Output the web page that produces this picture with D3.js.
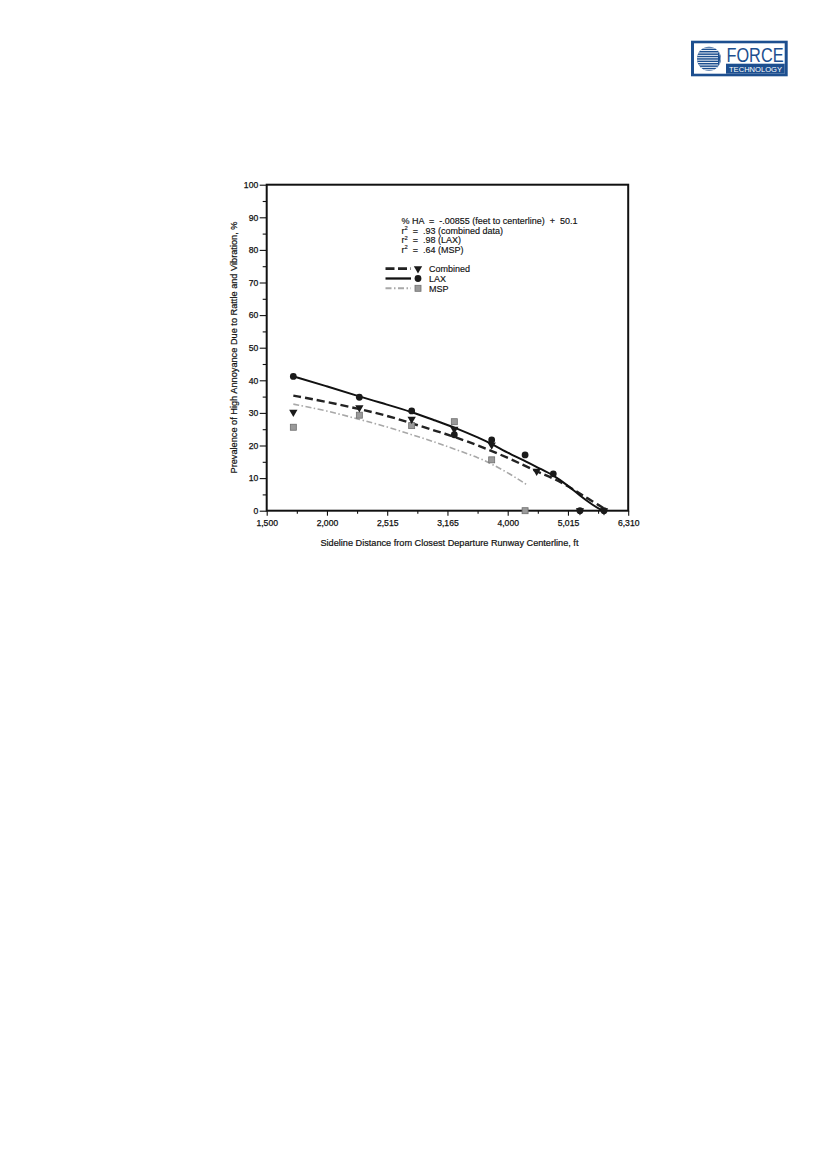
<!DOCTYPE html>
<html>
<head>
<meta charset="utf-8">
<script src="https://cdn.jsdelivr.net/npm/d3@7/dist/d3.min.js"></script>
<style>
html,body{margin:0;padding:0;background:#fff;}
svg{display:block;}
text{font-family:"Liberation Sans",Arial,sans-serif;fill:#111;}
</style>
</head>
<body>
<script>
// ---------- DATA ----------
const xTickValues = [1500, 2000, 2515, 3165, 4000, 5015, 6310];
const yTickValues = [0, 10, 20, 30, 40, 50, 60, 70, 80, 90, 100];
const yMinorValues = [5, 15, 25, 35, 45, 55, 65, 75, 85, 95];

// observed points
const laxX = [1721, 2277, 2779, 3260, 3778, 4293, 4768, 5273, 5790];
const laxY = [41.2, 34.8, 30.6, 23.3, 21.7, 17.1, 11.3, 0, 0];
const combinedX = [1721, 2277, 2779, 3260, 3778, 4488, 5273, 5790];
const combinedY = [30.2, 31.6, 28.1, 25.0, 20.2, 12.1, 0, 0];
const mspX = [1721, 2277, 2779, 3260, 3778, 4293];
const mspY = [25.6, 29.3, 26.1, 27.3, 15.6, 0];

// fitted curves
const laxFitX = [1721, 1998, 2277, 2510, 2779, 3049, 3260, 3616, 3778, 4039, 4319, 4544, 4768, 4993, 5273, 5559, 5760];
const laxFitY = [41.2, 38.2, 35.0, 32.6, 30.3, 27.5, 25.6, 22.2, 20.5, 17.4, 15.0, 12.9, 10.9, 8.0, 4.6, 1.6, 0];
const combinedFitX = [1721, 1998, 2277, 2510, 2779, 3049, 3260, 3616, 4039, 4488, 4768, 5058, 5273, 5416, 5700, 5790];
const combinedFitY = [35.3, 33.4, 31.2, 29.2, 26.8, 24.4, 22.7, 19.8, 16.0, 12.0, 10.0, 7.2, 5.2, 4.0, 1.5, 0.7];
const mspFitX = [1721, 1998, 2277, 2510, 2779, 3049, 3260, 3616, 3778, 4039, 4319];
const mspFitY = [32.7, 30.7, 28.0, 25.8, 23.3, 20.9, 18.9, 16.1, 14.3, 11.3, 8.0];

const legendLabels = ["Combined", "LAX", "MSP"];
const annotationLines = [
  {pre: "% HA  =  -.00855 (feet to centerline)  +  50.1", r: false},
  {pre: "  =  .93 (combined data)", r: true},
  {pre: "  =  .98 (LAX)", r: true},
  {pre: "  =  .64 (MSP)", r: true}
];
const xTitle = "Sideline Distance from Closest Departure Runway Centerline, ft";
const yTitle = "Prevalence of High Annoyance Due to Rattle and Vibration, %";

// ---------- LAYOUT ----------
const W = 827, H = 1169;
const L = 266.7, R = 628.2, T = 184.7, B = 510.7;

const svg = d3.select("body").append("svg").attr("width", W).attr("height", H);
svg.append("rect").attr("width", W).attr("height", H).attr("fill", "#fff");

const x = d3.scaleLinear()
  .domain(xTickValues)
  .range(xTickValues.map((d, i) => L + i * (R - L) / (xTickValues.length - 1)));
const y = d3.scaleLinear().domain([0, 100]).range([B, T]);

const g = svg.append("g");

// axes
const xAxis = d3.axisBottom(x).tickValues(xTickValues).tickFormat(d3.format(",")).tickSize(5).tickPadding(4);
const xMinor = d3.pairs(xTickValues).map(([a, b]) => (a + b) / 2);
g.append("g").attr("transform", `translate(0,${B})`).call(xAxis);
g.append("g").attr("transform", `translate(0,${B})`)
  .call(d3.axisBottom(x).tickValues(xMinor).tickFormat("").tickSize(3))
  .select(".domain").remove();

const yAxis = d3.axisLeft(y).tickValues(yTickValues).tickSize(7).tickPadding(1.5);
g.append("g").attr("transform", `translate(${L},0)`).call(yAxis);
g.append("g").attr("transform", `translate(${L},0)`)
  .call(d3.axisLeft(y).tickValues(yMinorValues).tickFormat("").tickSize(4))
  .select(".domain").remove();

g.selectAll(".tick line").attr("stroke", "#111").attr("stroke-width", 1.1);
g.selectAll(".domain").attr("stroke", "none");
g.selectAll(".tick text").attr("font-size", 8.6).attr("fill", "#111")
  .attr("stroke", "#111").attr("stroke-width", 0.25)
  .style("font-family", '"Liberation Sans",Arial,sans-serif');

// frame
g.append("rect").attr("x", L).attr("y", T).attr("width", R - L).attr("height", B - T)
  .attr("fill", "none").attr("stroke", "#111").attr("stroke-width", 2);

// titles
svg.append("text").attr("x", (L + R) / 2 + 2).attr("y", 545.5).attr("text-anchor", "middle")
  .attr("font-size", 8.8).attr("stroke", "#111").attr("stroke-width", 0.2)
  .attr("textLength", 258).attr("lengthAdjust", "spacingAndGlyphs").text(xTitle);
svg.append("text").attr("transform", `translate(236.5,347.5) rotate(-90)`).attr("text-anchor", "middle")
  .attr("font-size", 8.8).attr("stroke", "#111").attr("stroke-width", 0.2)
  .attr("textLength", 252).attr("lengthAdjust", "spacingAndGlyphs").text(yTitle);

// curves
const line = d3.line().x(d => x(d[0])).y(d => y(d[1])).curve(d3.curveBasis);
const zipPts = (xs, ys) => xs.map((v, i) => [v, ys[i]]);

const styles = {
  Combined: {stroke: "#222", width: 2.4, dash: "8,4"},
  LAX: {stroke: "#111", width: 2.0, dash: null},
  MSP: {stroke: "#a8a8a8", width: 1.6, dash: "6,2.5,1.5,2.5"}
};

g.append("path").datum(zipPts(mspFitX, mspFitY)).attr("d", line).attr("fill", "none")
  .attr("stroke", styles.MSP.stroke).attr("stroke-width", styles.MSP.width).attr("stroke-dasharray", styles.MSP.dash);
g.append("path").datum(zipPts(combinedFitX, combinedFitY)).attr("d", line).attr("fill", "none")
  .attr("stroke", styles.Combined.stroke).attr("stroke-width", styles.Combined.width).attr("stroke-dasharray", styles.Combined.dash);
g.append("path").datum(zipPts(laxFitX, laxFitY)).attr("d", line).attr("fill", "none")
  .attr("stroke", styles.LAX.stroke).attr("stroke-width", styles.LAX.width);

// markers
const tri = d3.symbol().type(d3.symbolTriangle).size(30);
function drawTriangle(sel) {
  sel.append("path").attr("d", tri).attr("transform", "rotate(180)").attr("fill", "#1a1a1a");
}
function drawCircle(sel) {
  sel.append("circle").attr("r", 3.4).attr("fill", "#1a1a1a");
}
function drawSquare(sel) {
  sel.append("rect").attr("x", -3).attr("y", -3).attr("width", 6).attr("height", 6)
    .attr("fill", "#9a9a9a").attr("stroke", "#6e6e6e").attr("stroke-width", 0.8);
}

g.selectAll(".msp").data(zipPts(mspX, mspY)).join("g").attr("class", "msp")
  .attr("transform", d => `translate(${x(d[0])},${y(d[1])})`).call(drawSquare);
g.selectAll(".comb").data(zipPts(combinedX, combinedY)).join("g").attr("class", "comb")
  .attr("transform", d => `translate(${x(d[0])},${y(d[1])})`).call(drawTriangle);
g.selectAll(".lax").data(zipPts(laxX, laxY)).join("g").attr("class", "lax")
  .attr("transform", d => `translate(${x(d[0])},${y(d[1])})`).call(drawCircle);

// annotation
const ann = svg.append("g").attr("transform", "translate(401.5,0)");
annotationLines.forEach((a, i) => {
  const t = ann.append("text").attr("x", 0).attr("y", 224 + i * 9.5)
    .attr("font-size", 9).attr("stroke", "#111").attr("stroke-width", 0.15)
    .style("white-space", "pre");
  if (a.r) {
    t.append("tspan").text("r");
    t.append("tspan").attr("font-size", 5.8).attr("dy", -3.2).text("2");
    t.append("tspan").attr("dy", 3.2).text(a.pre);
  } else {
    t.text(a.pre);
  }
});

// legend
const legY = [268.7, 278.5, 288.3];
const leg = svg.append("g");
legendLabels.forEach((name, i) => {
  const s = styles[name];
  const row = leg.append("g").attr("transform", `translate(0,${legY[i]})`);
  row.append("line").attr("x1", 385.5).attr("x2", 411).attr("y1", 0).attr("y2", 0)
    .attr("stroke", s.stroke).attr("stroke-width", s.width + 0.3)
    .attr("stroke-dasharray", name === "Combined" ? "9,3.5" : (name === "MSP" ? "6,2.5,1.5,2.5" : null));
  const m = row.append("g").attr("transform", "translate(418,0)");
  if (name === "Combined") drawTriangle(m);
  else if (name === "LAX") drawCircle(m);
  else drawSquare(m);
  row.append("text").attr("x", 429).attr("y", 3.2).attr("font-size", 9)
    .attr("stroke", "#111").attr("stroke-width", 0.15).text(name);
});

// logo
const blue = "#1d4f8f";
const logo = svg.append("g");
logo.append("rect").attr("x", 691).attr("y", 40.7).attr("width", 96.7).attr("height", 35.6).attr("fill", blue);
logo.append("rect").attr("x", 694).attr("y", 43.3).attr("width", 90.7).attr("height", 30.4).attr("fill", "#fff");
logo.append("rect").attr("x", 726).attr("y", 63.7).attr("width", 58.7).attr("height", 10).attr("fill", blue);
const defs = svg.append("defs");
defs.append("clipPath").attr("id", "ballclip").append("circle").attr("cx", 709).attr("cy", 58.7).attr("r", 12);
logo.append("circle").attr("cx", 709).attr("cy", 58.7).attr("r", 12).attr("fill", blue);
const stripes = logo.append("g").attr("clip-path", "url(#ballclip)");
d3.range(-11, 12, 2.4).forEach(dy => {
  stripes.append("rect").attr("x", 696).attr("y", 58.7 + dy).attr("width", 22).attr("height", 0.9).attr("fill", "#fff");
});
stripes.append("path")
  .attr("d", "M712,46 A14,14 0 0 1 712,71.4 A11,13 0 0 0 712,46 Z")
  .attr("fill", "#fff");
logo.append("text").attr("x", 726.5).attr("y", 61.5).attr("font-size", 21)
  .attr("textLength", 57).attr("lengthAdjust", "spacingAndGlyphs")
  .style("fill", blue).text("FORCE");
logo.append("text").attr("x", 729).attr("y", 72.3).attr("font-size", 6.8)
  .attr("textLength", 53).attr("lengthAdjust", "spacingAndGlyphs")
  .style("fill", "#fff").text("TECHNOLOGY");
</script>
</body>
</html>
